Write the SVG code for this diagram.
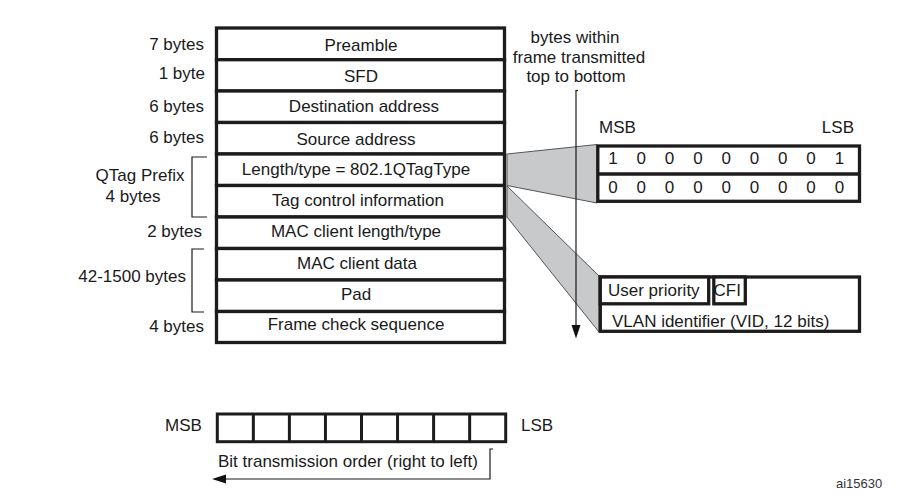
<svg xmlns="http://www.w3.org/2000/svg" width="918" height="500" viewBox="0 0 918 500">
<style>
  text { font-family: "Liberation Sans", Arial, sans-serif; font-size: 17px; fill: #1a1a1a; }
  .c { text-anchor: middle; }
  .r { text-anchor: end; }
  .box { fill: #ffffff; stroke: #1e1b1c; stroke-width: 3.3; }
  .thin { fill: none; stroke: #1a1a1a; stroke-width: 1.2; }
  .wedge { fill: #c8c9cb; stroke: #555; stroke-width: 1; }
</style>

<g id="wedges">
  <polygon class="wedge" points="507,154 597,144.5 597,203 507,185.5"/>
  <polygon class="wedge" points="507,186 599,276 599,332 507,217"/>
</g>

<g id="frame">
  <g id="row-preamble"><rect class="box" x="216.5" y="28" width="288" height="31.7"/><text class="c" x="361" y="51">Preamble</text></g>
  <g id="row-sfd"><rect class="box" x="216.5" y="59.7" width="288" height="31.3"/><text class="c" x="361" y="81.5">SFD</text></g>
  <g id="row-dest"><rect class="box" x="216.5" y="91" width="288" height="31.5"/><text class="c" x="364" y="112">Destination address</text></g>
  <g id="row-src"><rect class="box" x="216.5" y="122.5" width="288" height="31.5"/><text class="c" x="356" y="145">Source address</text></g>
  <g id="row-lentype"><rect class="box" x="216.5" y="154" width="288" height="31.5"/><text class="c" x="356" y="175">Length/type = 802.1QTagType</text></g>
  <g id="row-tci"><rect class="box" x="216.5" y="185.5" width="288" height="31.5"/><text class="c" x="358" y="206">Tag control information</text></g>
  <g id="row-maclen"><rect class="box" x="216.5" y="217" width="288" height="31.5"/><text class="c" x="356" y="236.5">MAC client length/type</text></g>
  <g id="row-macdata"><rect class="box" x="216.5" y="248.5" width="288" height="31.5"/><text class="c" x="357" y="269">MAC client data</text></g>
  <g id="row-pad"><rect class="box" x="216.5" y="280" width="288" height="31.5"/><text class="c" x="356" y="299.5">Pad</text></g>
  <g id="row-fcs"><rect class="box" x="216.5" y="311.5" width="288" height="31"/><text class="c" x="356" y="330">Frame check sequence</text></g>
</g>

<g id="left-labels">
  <text class="r" x="204" y="49.5">7 bytes</text>
  <text class="r" x="205" y="78.5">1 byte</text>
  <text class="r" x="204" y="112">6 bytes</text>
  <text class="r" x="204" y="143">6 bytes</text>
  <text class="c" x="140" y="181">QTag Prefix</text>
  <text class="c" x="133" y="201.5">4 bytes</text>
  <text class="r" x="202" y="236.5">2 bytes</text>
  <text class="r" x="186" y="281.5">42-1500 bytes</text>
  <text class="r" x="204" y="331.5">4 bytes</text>
  <polyline class="thin" points="207,157 192,157 192,217 207,217"/>
  <polyline class="thin" points="204,249 192,249 192,312 204,312"/>
</g>

<g id="direction">
  <text class="c" x="575" y="43">bytes within</text>
  <text class="c" x="579" y="62.5">frame transmitted</text>
  <text class="c" x="576" y="81.5">top to bottom</text>
</g>

<g id="tag-type-bits">
  <text x="599" y="133">MSB</text>
  <text class="r" x="854" y="133">LSB</text>
  <rect class="box" x="597.8" y="146" width="261.7" height="55.3"/>
  <line x1="597.8" y1="174" x2="859.5" y2="174" stroke="#1e1b1c" stroke-width="3.3"/>
  <g class="c">
    <text class="c" x="613" y="164">1</text><text class="c" x="641.3" y="164">0</text><text class="c" x="669.6" y="164">0</text><text class="c" x="697.9" y="164">0</text><text class="c" x="726.2" y="164">0</text><text class="c" x="754.5" y="164">0</text><text class="c" x="782.8" y="164">0</text><text class="c" x="811.1" y="164">0</text><text class="c" x="839.4" y="164">1</text>
    <text class="c" x="613" y="193">0</text><text class="c" x="641.3" y="193">0</text><text class="c" x="669.6" y="193">0</text><text class="c" x="697.9" y="193">0</text><text class="c" x="726.2" y="193">0</text><text class="c" x="754.5" y="193">0</text><text class="c" x="782.8" y="193">0</text><text class="c" x="811.1" y="193">0</text><text class="c" x="839.4" y="193">0</text>
  </g>
</g>

<g id="tci-fields">
  <rect class="box" x="600.3" y="277" width="259.2" height="54.3"/>
  <rect class="box" x="600.3" y="277" width="108.4" height="26.8"/>
  <rect class="box" x="713.8" y="277" width="31.5" height="26.8"/>
  <text x="608" y="296">User priority</text>
  <text x="713.5" y="296">CFI</text>
  <text x="612" y="327">VLAN identifier (VID, 12 bits)</text>
</g>

<g id="connectors">
  <line class="thin" x1="576" y1="90.5" x2="576" y2="327"/>
  <line class="thin" x1="575.5" y1="90.5" x2="578" y2="90.5"/>
  <polygon points="571.5,325 580.5,325 576,338.5" fill="#111"/>
  <polyline class="thin" points="493,449 490,449 490,479 224,479"/>
  <polygon points="212,479 226,474.5 226,483.5" fill="#111"/>
</g>

<g id="bit-order">
  <rect x="217.3" y="414" width="288.4" height="27.7" fill="#fff" stroke="#1e1b1c" stroke-width="3"/>
  <g stroke="#1e1b1c" stroke-width="3">
    <line x1="253.35" y1="414" x2="253.35" y2="441.7"/>
    <line x1="289.4" y1="414" x2="289.4" y2="441.7"/>
    <line x1="325.45" y1="414" x2="325.45" y2="441.7"/>
    <line x1="361.5" y1="414" x2="361.5" y2="441.7"/>
    <line x1="397.55" y1="414" x2="397.55" y2="441.7"/>
    <line x1="433.6" y1="414" x2="433.6" y2="441.7"/>
    <line x1="469.65" y1="414" x2="469.65" y2="441.7"/>
  </g>
  <text x="165" y="430.5">MSB</text>
  <text x="521" y="430.5">LSB</text>
  <text x="218" y="466.5">Bit transmission order (right to left)</text>
</g>

<text x="836" y="488" style="font-size:13px; fill:#333">ai15630</text>
</svg>
